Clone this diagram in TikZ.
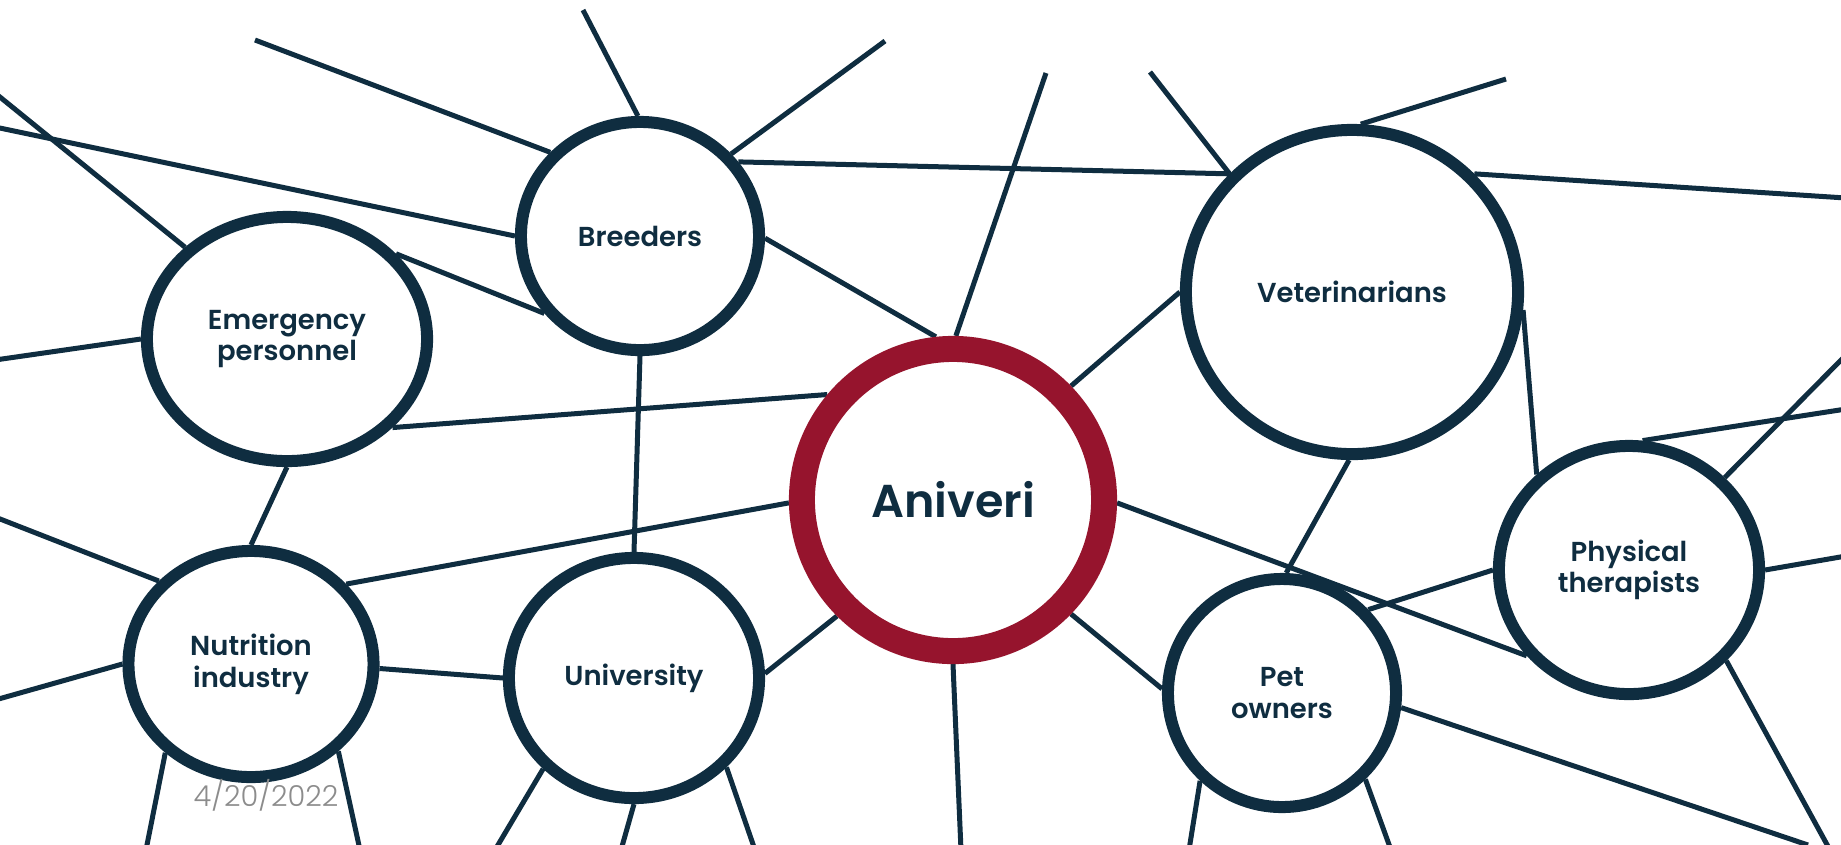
\documentclass[tikz,border=0pt]{standalone}
\usepackage{fontspec}
\setmainfont{Poppins}
\newfontfamily\labelfont{Poppins SemiBold}
\newfontfamily\datefont{Poppins Light}
\usetikzlibrary{shapes.geometric,backgrounds}
\definecolor{navy}{HTML}{0F2D40}
\definecolor{aniverired}{HTML}{96142D}
\definecolor{dategray}{HTML}{8C8C8C}

\begin{document}
\begin{tikzpicture}[x=0.01cm, y=-0.01cm]
    % Define styles
    \tikzset{
        group/.style={ellipse, draw=navy, fill=white, line width=1.2mm, inner sep=0pt, align=center, text=navy, font=\fontsize{7.8}{9.0}\selectfont\labelfont},
        hub/.style={circle, draw=aniverired, fill=white, line width=2.6mm, minimum size=30.2mm, inner sep=0pt, text=navy, font=\fontsize{13.1}{16}\selectfont\labelfont},
        link/.style={navy, line width=0.5mm},
        datestamp/.style={text=dategray, font=\fontsize{8.2}{10}\selectfont\datefont}
    }

    \useasboundingbox (0,0) rectangle (1841,844);

    % Stakeholder circles
    \node[hub] (aniveri) at (953,500) {Aniveri};
    \node[group, minimum width=23.8mm, minimum height=22.8mm] (breeders) at (640,236) {Breeders};
    \node[group, minimum width=28.0mm, minimum height=24.4mm] (emergency) at (287,339) {Emergency\\personnel};
    \node[group, minimum width=33.2mm, minimum height=32.4mm] (veterinarians) at (1352,292) {Veterinarians};
    \node[group, minimum width=24.5mm, minimum height=22.6mm] (nutrition) at (251,664) {Nutrition\\industry};
    \node[group, minimum width=25.0mm, minimum height=24.0mm] (university) at (634,678) {University};
    \node[group, minimum width=22.8mm, minimum height=22.8mm] (petowners) at (1282,693) {Pet\\owners};
    \node[group, minimum width=26.0mm, minimum height=24.8mm] (therapists) at (1629,570) {Physical\\therapists};

    % Date
    \node[datestamp] (date) at (266,795) {4/20/2022};

    % Loose ends of the network
    \foreach \name/\x/\y in {b1/255/40, b2/583/10, b3/885/41, b4/-5/127,
        e1/-5/93, e2/-5/360, v1/1846/198, v2/1150/72, v3/1506/79,
        a1/1046/73, a2/961/850, t1/1846/355, t2/1846/409, t3/1846/556,
        t4/1830/850, n1/-5/517, n2/-5/700, n3/146/850, n4/360/850,
        u1/495/850, u2/621/850, u3/755/850, p1/1808/845, p2/1189/850, p3/1391/850}
        \coordinate (\name) at (\x,\y);

    \begin{scope}[on background layer]
        % Links between circles
        \foreach \from/\to in {breeders.359/aniveri.96, breeders.37/veterinarians.136,
            emergency.38/breeders.219, breeders.270/university.90,
            emergency.320/aniveri.140, emergency.270/nutrition.90,
            nutrition.40/aniveri.181, nutrition.358/university.180,
            university.2/aniveri.225, aniveri.44/veterinarians.180,
            aniveri.316/petowners.178, aniveri.359/therapists.220,
            veterinarians.354/therapists.134, veterinarians.269/petowners.88,
            petowners.44/therapists.180}
            \draw[link] (\from) -- (\to);

        % Links running off the page
        \foreach \from/\to in {breeders.137/b1, breeders.91/b2, breeders.42/b3, breeders.180/b4,
            emergency.138/e1, emergency.180/e2,
            veterinarians.44/v1, veterinarians.136/v2, veterinarians.87/v3,
            aniveri.89/a1, aniveri.270/a2,
            therapists.44/t1, therapists.84/t2, therapists.0/t3, therapists.317/t4,
            nutrition.138/n1, nutrition.180/n2, nutrition.226/n3, nutrition.315/n4,
            university.225/u1, university.270/u2, university.316/u3,
            petowners.353/p1, petowners.227/p2, petowners.314/p3}
            \draw[link] (\from) -- (\to);
    \end{scope}

\end{tikzpicture}
\end{document}
